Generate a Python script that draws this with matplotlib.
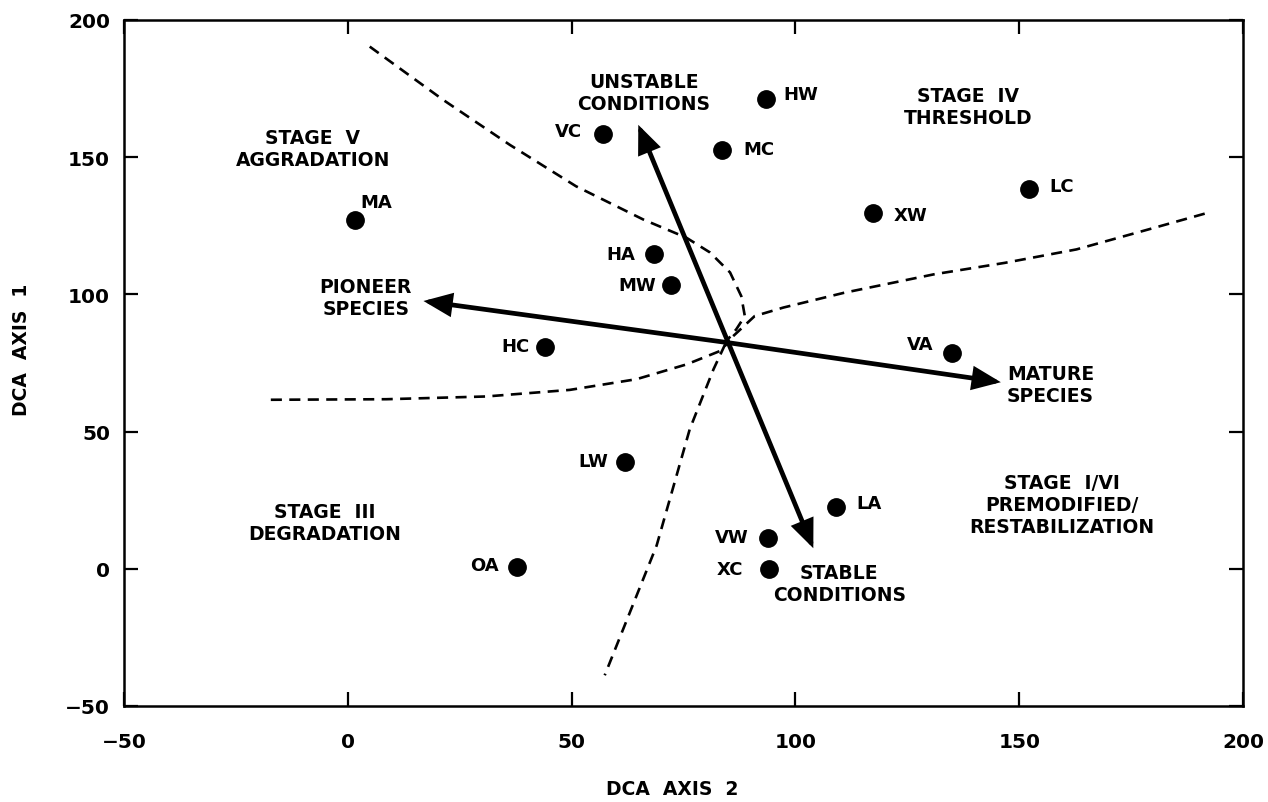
import matplotlib
matplotlib.use('Agg')
import matplotlib.pyplot as plt

plt.rcParams['font.family'] = ['DejaVu Sans']
plt.rcParams['font.weight'] = 'bold'

# ---------------- data ----------------
site_labels = ['MA', 'VC', 'HW', 'MC', 'LC', 'XW', 'HA', 'MW', 'HC', 'VA',
               'LW', 'LA', 'VW', 'XC', 'OA']
dca_axis2 = [1.5, 57.0, 93.4, 83.5, 152.1, 117.4, 68.5, 72.2, 44.1, 135.0,
             61.9, 109.0, 93.8, 94.0, 37.7]
dca_axis1 = [127.0, 158.5, 171.2, 152.5, 138.5, 129.7, 114.8, 103.3, 80.8, 78.8,
             39.0, 22.4, 11.4, -0.2, 0.6]

gradient_origin_x = 85.0
gradient_origin_y = 82.4
gradient_tip_x = [16.9, 145.9, 64.9, 104.0]
gradient_tip_y = [97.6, 68.0, 161.8, 7.5]

# dashed stage boundaries
bound_upper_x = [4.9, 21.3, 36.2, 51.0, 66.0, 75.6, 80.9, 85.4, 87.9, 88.7, 86.8, 84.6]
bound_upper_y = [190.3, 170.9, 154.5, 139.4, 127.3, 120.7, 115.3, 108.0, 99.4, 92.1, 87.3, 83.0]
bound_right_x = [86.1, 90.9, 97.3, 110.9, 130.9, 146.8, 162.8, 178.7, 191.6]
bound_right_y = [84.8, 92.1, 95.2, 100.6, 107.3, 111.5, 116.4, 123.6, 129.5]
bound_left_x = [-17.2, 8.6, 30.9, 49.6, 64.5, 75.7, 83.2, 85.0]
bound_left_y = [61.6, 61.8, 62.8, 65.2, 69.1, 74.5, 79.4, 82.5]
bound_lower_x = [84.3, 81.7, 76.4, 69.0, 57.4]
bound_lower_y = [81.8, 72.7, 50.9, 8.5, -38.8]

x_ticks = [-50, 0, 50, 100, 150, 200]
y_ticks = [-50, 0, 50, 100, 150, 200]

# ---------------- layout ----------------
# label offsets in pixels (dx, dy, ha)
label_offsets = {
    'MA': (6, 18, 'left'), 'VC': (-21, 3, 'right'), 'HW': (18, 5, 'left'),
    'MC': (22, 1, 'left'), 'LC': (21, 3, 'left'), 'XW': (20, -2, 'left'),
    'HA': (-19, 0, 'right'), 'MW': (-15, 0, 'right'), 'HC': (-16, 1, 'right'),
    'VA': (-19, 9, 'right'), 'LW': (-17, 1, 'right'), 'LA': (21, 4, 'left'),
    'VW': (-19, 1, 'right'), 'XC': (-25, 0, 'right'), 'OA': (-18, 2, 'right'),
}

region_texts = [
    ('UNSTABLE\nCONDITIONS', 66.2, 173.6),
    ('STABLE\nCONDITIONS', 109.8, -5.3),
    ('PIONEER\nSPECIES', 4.0, 98.8),
    ('MATURE\nSPECIES', 157.0, 67.1),
    ('STAGE  V\nAGGRADATION', -7.8, 153.3),
    ('STAGE  IV\nTHRESHOLD', 138.5, 168.4),
    ('STAGE  III\nDEGRADATION', -5.2, 17.0),
    ('STAGE  I/VI\nPREMODIFIED/\nRESTABILIZATION', 159.6, 23.5),
]

FS = 13.5

fig = plt.figure(figsize=(12.68, 8.03), dpi=100)
ax = fig.add_axes([124 / 1268, 1 - 707 / 803, (1243 - 124) / 1268, (707 - 21) / 803])
ax.set_xlim(-50, 200)
ax.set_ylim(-50, 200)

# boundaries
for bx, by in [(bound_upper_x, bound_upper_y), (bound_right_x, bound_right_y),
               (bound_left_x, bound_left_y), (bound_lower_x, bound_lower_y)]:
    ax.plot(bx, by, color='black', lw=1.9, dashes=(4.2, 2.8), solid_capstyle='butt',
            dash_capstyle='butt', solid_joinstyle='round')

# gradient arrows
for tx, ty in zip(gradient_tip_x, gradient_tip_y):
    ax.annotate('', xy=(tx, ty), xytext=(gradient_origin_x, gradient_origin_y),
                arrowprops=dict(arrowstyle='-|>,head_length=1.0,head_width=0.42',
                                mutation_scale=15, lw=3.4, color='black',
                                shrinkA=0, shrinkB=0, joinstyle='miter'))

# sites
ax.plot(dca_axis2, dca_axis1, 'o', color='black', markersize=12.5, zorder=5)
for name, x, y in zip(site_labels, dca_axis2, dca_axis1):
    dx, dy, ha = label_offsets[name]
    ax.annotate(name, (x, y), xytext=(dx, dy), textcoords='offset pixels',
                ha=ha, va='center', fontsize=FS - 0.5, fontweight='bold')

for txt, x, y in region_texts:
    ax.text(x, y, txt, ha='center', va='center', fontsize=FS, fontweight='bold',
            multialignment='center', linespacing=1.2)

# axes styling
ax.set_xticks(x_ticks)
ax.set_yticks(y_ticks)
ax.set_xticklabels([str(v).replace('-', '\u2212') for v in x_ticks])
ax.set_yticklabels([str(v).replace('-', '\u2212') for v in y_ticks])
ax.tick_params(direction='in', length=10, width=1.6, top=True, right=True,
               labelsize=FS + 1, pad=10)
ax.tick_params(axis='x', pad=19)
for lab in ax.get_xticklabels() + ax.get_yticklabels():
    lab.set_fontweight('bold')
for s in ax.spines.values():
    s.set_linewidth(1.8)

fig.text(672 / 1268, 1 - 790 / 803, 'DCA  AXIS  2', ha='center', va='center',
         fontsize=FS, fontweight='bold')
fig.text(22 / 1268, 1 - 350 / 803, 'DCA  AXIS  1', ha='center', va='center',
         rotation=90, fontsize=FS, fontweight='bold')

fig.savefig('out.png', dpi=100)
